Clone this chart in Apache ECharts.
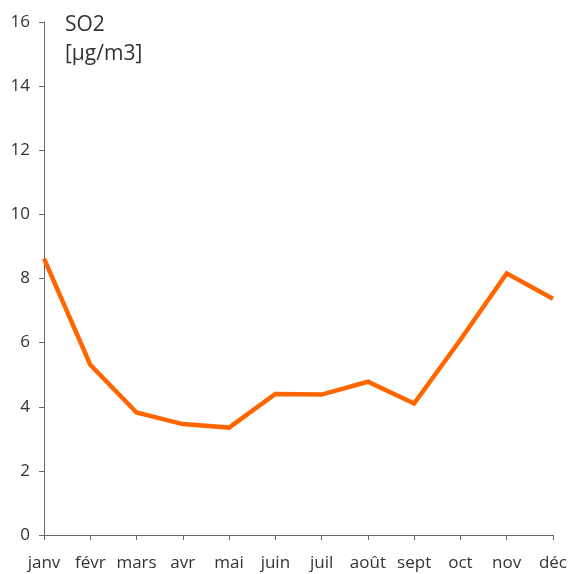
<!DOCTYPE html>
<html><head><meta charset="utf-8">
<script src="https://cdn.jsdelivr.net/npm/echarts@6/dist/echarts.min.js"></script>
<style>html,body{margin:0;padding:0;background:#fff}#c{width:570px;height:574px}</style>
</head><body><div id="c"></div>
<script>
const months = ['janv','févr','mars','avr','mai','juin','juil','août','sept','oct','nov','déc'];
const so2 = [8.62, 5.31, 3.82, 3.46, 3.35, 4.40, 4.38, 4.78, 4.10, 6.09, 8.16, 7.37];
const yTicks = [0, 2, 4, 6, 8, 10, 12, 14, 16];
const titleLines = ['SO2', '[µg/m3]'];

const chart = echarts.init(document.getElementById('c'), null, {renderer: 'canvas'});
const font = '"Open Sans", "Noto Sans", sans-serif';
chart.setOption({
  animation: false,
  backgroundColor: '#fff',
  title: {
    text: titleLines.join('\n'),
    left: 60, top: 6,
    textStyle: {fontFamily: font, fontWeight: 'normal', fontSize: 21, color: '#333', lineHeight: 29}
  },
  grid: {left: 44, right: 17, top: 22, bottom: 39, containLabel: false},
  xAxis: {
    type: 'category', data: months, boundaryGap: false,
    axisLine: {lineStyle: {color: '#666', width: 1}},
    axisTick: {show: true, length: 5, alignWithLabel: true, lineStyle: {color: '#666'}},
    axisLabel: {fontFamily: font, fontSize: 17, color: '#333', margin: 20, interval: 0},
    splitLine: {show: false}
  },
  yAxis: {
    type: 'value', min: yTicks[0], max: yTicks[yTicks.length - 1], interval: 2,
    axisLine: {show: true, lineStyle: {color: '#666', width: 1}},
    axisTick: {show: true, length: 5, lineStyle: {color: '#666'}},
    axisLabel: {fontFamily: font, fontSize: 17, color: '#333', margin: 14},
    splitLine: {show: false}
  },
  series: [{
    type: 'line', data: so2, symbol: 'none',
    lineStyle: {color: '#FF6600', width: 4.5, join: 'miter'},
    itemStyle: {color: '#FF6600'}
  }]
});
</script></body></html>
